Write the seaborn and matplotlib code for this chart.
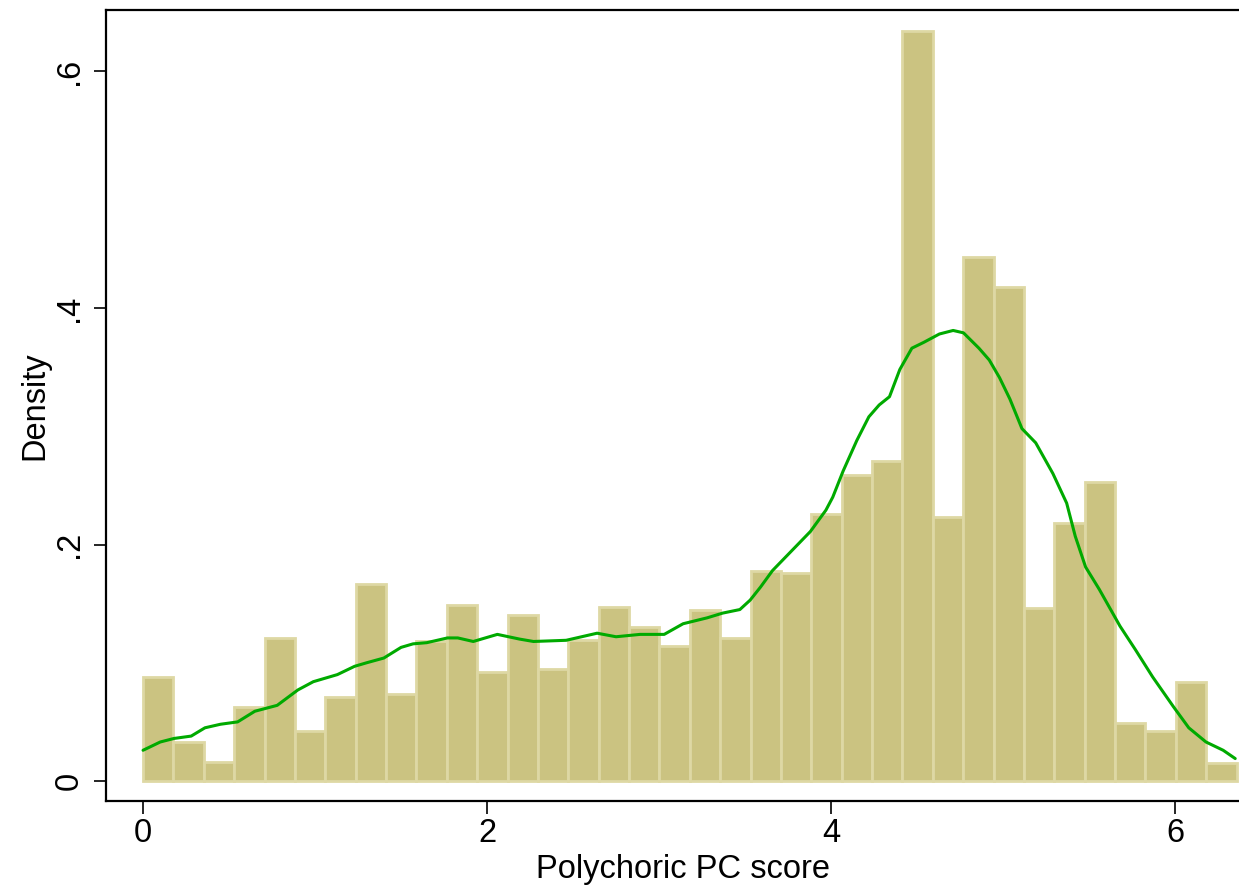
import numpy as np
import pandas as pd
import matplotlib
matplotlib.use("Agg")
import matplotlib.pyplot as plt
import seaborn as sns

# Histogram of polychoric PC scores: density of each of the 36 bins
bin_start = 0.0
bin_width = 0.1766
bin_density = [0.088, 0.033, 0.016, 0.063, 0.121, 0.042, 0.071, 0.167, 0.074,
               0.118, 0.149, 0.092, 0.140, 0.095, 0.119, 0.147, 0.130, 0.114,
               0.145, 0.121, 0.178, 0.176, 0.226, 0.259, 0.271, 0.634, 0.223,
               0.443, 0.418, 0.146, 0.218, 0.253, 0.049, 0.042, 0.084, 0.015]

# Kernel density estimate overlaid on the histogram
kde_x = [0.00, 0.10, 0.18, 0.28, 0.36, 0.45, 0.55, 0.65, 0.78, 0.90, 0.99,
         1.13, 1.23, 1.30, 1.40, 1.50, 1.57, 1.65, 1.77, 1.83, 1.92, 2.06,
         2.19, 2.27, 2.46, 2.64, 2.75, 2.89, 3.03, 3.14, 3.28, 3.37, 3.47,
         3.53, 3.59, 3.66, 3.72, 3.82, 3.88, 3.97, 4.01, 4.07, 4.15, 4.22,
         4.28, 4.34, 4.40, 4.47, 4.54, 4.63, 4.71, 4.77, 4.86, 4.92, 4.98,
         5.04, 5.11, 5.19, 5.29, 5.37, 5.42, 5.48, 5.56, 5.68, 5.77, 5.87,
         5.99, 6.08, 6.18, 6.28, 6.35]
kde_y = [0.026, 0.033, 0.036, 0.038, 0.045, 0.048, 0.050, 0.059, 0.064, 0.077,
         0.084, 0.090, 0.097, 0.100, 0.104, 0.113, 0.116, 0.117, 0.121, 0.121,
         0.118, 0.124, 0.120, 0.118, 0.119, 0.125, 0.122, 0.124, 0.124, 0.133,
         0.138, 0.142, 0.145, 0.153, 0.164, 0.178, 0.187, 0.202, 0.211, 0.229,
         0.240, 0.262, 0.288, 0.308, 0.318, 0.325, 0.348, 0.366, 0.371, 0.378,
         0.381, 0.379, 0.366, 0.356, 0.341, 0.323, 0.298, 0.286, 0.260, 0.235,
         0.207, 0.181, 0.162, 0.131, 0.111, 0.088, 0.063, 0.045, 0.033, 0.026,
         0.019]

x_ticks = [0, 2, 4, 6]
x_tick_labels = ["0", "2", "4", "6"]
y_ticks = [0, 0.2, 0.4, 0.6]
y_tick_labels = ["0", ".2", ".4", ".6"]
x_label = "Polychoric PC score"
y_label = "Density"

sns.set_theme(style="white")
plt.rcParams["font.family"] = ["Liberation Sans", "DejaVu Sans"]

n_bins = len(bin_density)
edges = [bin_start + bin_width * i for i in range(n_bins + 1)]
centers = [(edges[i] + edges[i + 1]) / 2 for i in range(n_bins)]
hist_df = pd.DataFrame({"score": centers, "density": bin_density})
kde_df = pd.DataFrame({"score": kde_x, "density": kde_y})

fig = plt.figure(figsize=(12.39, 8.91), dpi=100)
ax = fig.add_axes([0.0856, 0.101, 0.9144, 0.8878])

sns.histplot(data=hist_df, x="score", weights="density", bins=edges,
             stat="count", color="#CBC381", edgecolor="#DED8A4",
             linewidth=2.0, alpha=1.0, ax=ax)
sns.lineplot(data=kde_df, x="score", y="density", color="#00AA00",
             linewidth=2.2, ax=ax)

ax.set_xlim(-0.215, 6.372)
ax.set_ylim(-0.0169, 0.652)

ax.set_xticks(x_ticks)
ax.set_xticklabels(x_tick_labels)
ax.set_yticks(y_ticks)
ax.set_yticklabels(y_tick_labels, rotation=90, va="center")

ax.tick_params(axis="both", which="major", length=9, width=1.2,
               color="black", labelsize=23.5, labelcolor="black",
               direction="out", bottom=True, left=True)
ax.tick_params(axis="x", pad=3)
ax.tick_params(axis="y", pad=6)

ax.set_xlabel(x_label, fontsize=23.5, color="black")
ax.set_ylabel(y_label, fontsize=23.5, color="black", labelpad=3)
ax.xaxis.set_label_coords(0.509, -0.067, transform=ax.transAxes)
ax.xaxis.label.set_va("top")

for side in ["left", "top", "bottom"]:
    ax.spines[side].set_visible(True)
    ax.spines[side].set_color("black")
    ax.spines[side].set_linewidth(1.6)
ax.spines["right"].set_visible(False)
ax.grid(False)

fig.savefig("out.png", dpi=100, facecolor="white")
